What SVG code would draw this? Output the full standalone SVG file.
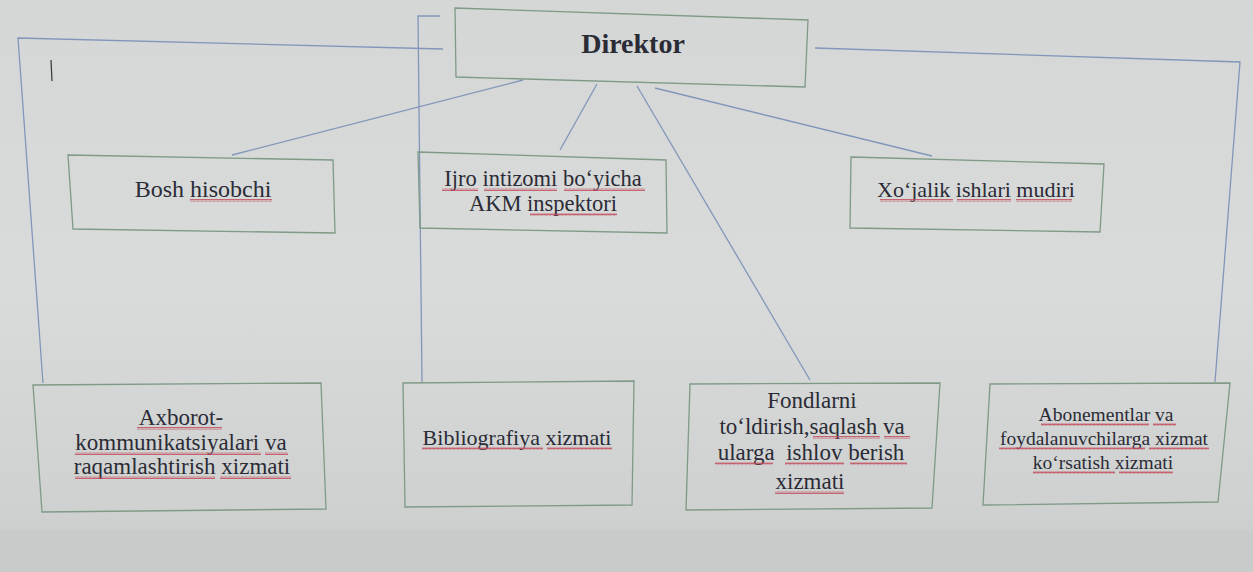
<svg xmlns="http://www.w3.org/2000/svg" width="1253" height="572" viewBox="0 0 1253 572">
<defs>
<linearGradient id="bg" x1="0" y1="0" x2="0" y2="1">
<stop offset="0" stop-color="#d4d7d6"/>
<stop offset="0.5" stop-color="#d8dbda"/>
<stop offset="0.9" stop-color="#ced1d0"/>
<stop offset="1" stop-color="#c4c7c6"/>
</linearGradient>
<pattern id="wave" width="4" height="3" patternUnits="userSpaceOnUse">
<path d="M0,2.5 L1,0.5 L2,2.5 L3,0.5 L4,2.5" fill="none" stroke="#c0485a" stroke-width="0.8"/>
</pattern>
<style>
.box{fill:none;stroke:#7f9a86;stroke-width:1.3}
.ln{fill:none;stroke:#8296ba;stroke-width:1.3}
.t{fill:#2b2b36;text-anchor:middle}
.w{fill:url(#wave)}
</style>
</defs>
<rect width="1253" height="572" fill="url(#bg)"/>
<rect x="0" y="530" width="1253" height="42" fill="#c8cbca"/>

<g id="connectors">
<polyline class="ln" points="443,49 18,38 43,383"/>
<polyline class="ln" points="440,16 418,16 422,382"/>
<polyline class="ln" points="815,48 1240,62 1215,382"/>
<line class="ln" x1="523" y1="80" x2="232" y2="155"/>
<line class="ln" x1="597" y1="84" x2="560" y2="150"/>
<line class="ln" x1="637" y1="86" x2="810" y2="380"/>
<line class="ln" x1="655" y1="88" x2="932" y2="156"/>
</g>
<line x1="51" y1="60" x2="52" y2="81" stroke="#333" stroke-width="1.2"/>

<g font-family="'Liberation Serif','Times New Roman',serif">
<g id="direktor">
<polygon class="box" points="455,8 808,20 805,87 456,77"/>
<text class="t" x="633" y="53" font-size="28" font-weight="bold">Direktor</text>
</g>

<g id="bosh-hisobchi">
<polygon class="box" points="68,155 333,160 335,233 73,229"/>
<text class="t" x="203" y="197" font-size="24">Bosh hisobchi</text>
<rect class="w" x="190" y="199" width="82" height="3"/>
</g>

<g id="ijro">
<polygon class="box" points="418,152 666,160 667,233 420,228"/>
<text class="t" x="543" y="186" font-size="22.5">Ijro intizomi bo‘yicha</text>
<text class="t" x="543" y="211" font-size="22.5">AKM inspektori</text>
<rect class="w" x="442" y="188" width="36" height="3"/>
<rect class="w" x="484" y="188" width="73" height="3"/>
<rect class="w" x="564" y="188" width="81" height="3"/>
<rect class="w" x="530" y="213" width="87" height="3"/>
</g>

<g id="xojalik">
<polygon class="box" points="851,157 1104,164 1100,232 850,228"/>
<text class="t" x="976" y="197" font-size="22">Xo‘jalik ishlari mudiri</text>
<rect class="w" x="880" y="199" width="73" height="3"/>
<rect class="w" x="957" y="199" width="54" height="3"/>
<rect class="w" x="1016" y="199" width="56" height="3"/>
</g>

<g id="axborot">
<polygon class="box" points="33,385 321,383 326,509 42,512"/>
<text class="t" x="181" y="425" font-size="23">Axborot-</text>
<text class="t" x="181" y="450" font-size="23">kommunikatsiyalari va</text>
<text class="t" x="182" y="474" font-size="23">raqamlashtirish xizmati</text>
<rect class="w" x="137" y="427" width="85" height="3"/>
<rect class="w" x="75" y="452" width="186" height="3"/>
<rect class="w" x="265" y="452" width="23" height="3"/>
<rect class="w" x="75" y="476" width="140" height="3"/>
<rect class="w" x="220" y="476" width="71" height="3"/>
</g>

<g id="bibliografiya">
<polygon class="box" points="403,383 634,381 632,505 405,507"/>
<text class="t" x="517" y="445" font-size="22">Bibliografiya xizmati</text>
<rect class="w" x="422" y="447" width="121" height="3"/>
<rect class="w" x="547" y="447" width="65" height="3"/>
</g>

<g id="fondlarni">
<polygon class="box" points="690,384 940,383 932,508 686,510"/>
<text class="t" x="812" y="408" font-size="23">Fondlarni</text>
<text class="t" x="812" y="434" font-size="23">to‘ldirish,saqlash va</text>
<text class="t" x="811" y="460" font-size="23" xml:space="preserve">ularga  ishlov berish</text>
<text class="t" x="810" y="489" font-size="23">xizmati</text>
<rect class="w" x="813" y="436" width="67" height="3"/>
<rect class="w" x="884" y="436" width="26" height="3"/>
<rect class="w" x="715" y="462" width="58" height="3"/>
<rect class="w" x="785" y="462" width="59" height="3"/>
<rect class="w" x="850" y="462" width="57" height="3"/>
<rect class="w" x="775" y="491" width="69" height="3"/>
</g>

<g id="abonementlar">
<polygon class="box" points="990,384 1230,383 1218,502 983,505"/>
<text class="t" x="1106" y="421" font-size="19.5">Abonementlar va</text>
<text class="t" x="1104" y="445" font-size="19.5">foydalanuvchilarga xizmat</text>
<text class="t" x="1103" y="469" font-size="19.5">ko‘rsatish xizmati</text>
<rect class="w" x="1041" y="423" width="108" height="3"/>
<rect class="w" x="1153" y="423" width="23" height="3"/>
<rect class="w" x="999" y="447" width="146" height="3"/>
<rect class="w" x="1149" y="447" width="60" height="3"/>
<rect class="w" x="1033" y="471" width="82" height="3"/>
<rect class="w" x="1119" y="471" width="54" height="3"/>
</g>
</g>
</svg>
